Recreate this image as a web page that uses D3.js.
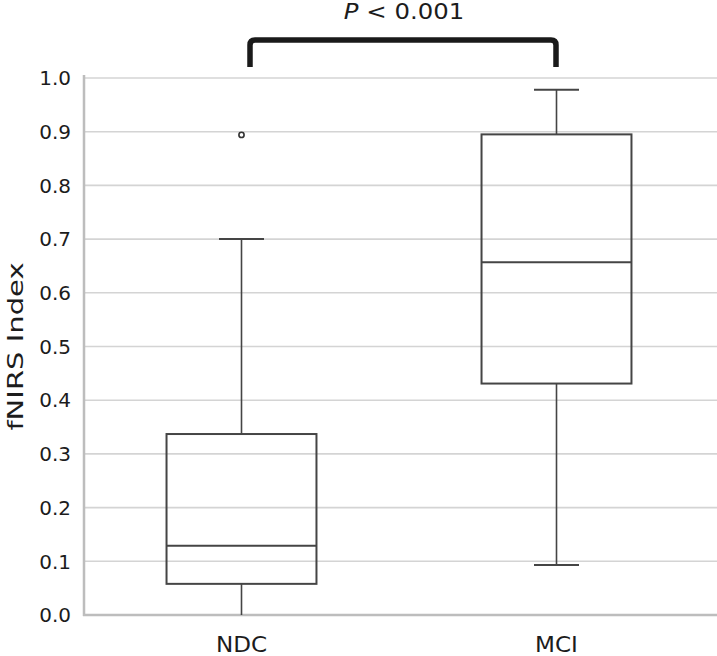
<!DOCTYPE html>
<html>
<head>
<meta charset="utf-8">
<script src="https://cdn.jsdelivr.net/npm/d3@7"></script>
<style>
    body { margin: 0; background: #fff; }
    text { font-family: "DejaVu Sans", Verdana, sans-serif; fill: #1c1c1c; }
</style>
</head>
<body>
<script>
// data
const groups = ["NDC", "MCI"];
const whiskerLow = [0.0, 0.093];
const q1 = [0.058, 0.431];
const median = [0.129, 0.657];
const q3 = [0.337, 0.895];
const whiskerHigh = [0.70, 0.978];
const outliers = [[0.894], []];
const yTicks = [0, 0.1, 0.2, 0.3, 0.4, 0.5, 0.6, 0.7, 0.8, 0.9, 1.0];
const pLabel = "< 0.001";

const width = 717, height = 656;
const margin = {top: 78, right: 3, bottom: 41, left: 84};

const svg = d3.select("body").append("svg")
    .attr("width", width)
    .attr("height", height);

const x = d3.scaleBand()
    .domain(groups)
    .range([margin.left, width - margin.right]);

const y = d3.scaleLinear()
    .domain([0, 1])
    .range([height - margin.bottom, margin.top]);

// grid
svg.append("g")
    .selectAll("line")
    .data(yTicks.slice(1))
    .enter().append("line")
    .attr("x1", margin.left)
    .attr("x2", width)
    .attr("y1", d => y(d))
    .attr("y2", d => y(d))
    .style("stroke", "#d4d4d4")
    .style("stroke-width", 1.6);

// y tick labels
svg.append("g")
    .selectAll("text")
    .data(yTicks)
    .enter().append("text")
    .attr("x", 71)
    .attr("y", d => y(d))
    .attr("dy", "0.36em")
    .attr("text-anchor", "end")
    .style("font-size", "20px")
    .text(d => d3.format(".1f")(d));

// axes lines
svg.append("line")
    .attr("x1", margin.left).attr("x2", margin.left)
    .attr("y1", y(1) - 3).attr("y2", y(0) + 1)
    .style("stroke", "#bdbdbd").style("stroke-width", 2.5);
svg.append("line")
    .attr("x1", margin.left - 1).attr("x2", width)
    .attr("y1", y(0)).attr("y2", y(0))
    .style("stroke", "#bdbdbd").style("stroke-width", 2.5);

// category labels (the figure's font runs wide, so scale x a bit)
svg.append("g")
    .selectAll("text")
    .data(groups)
    .enter().append("text")
    .attr("transform", d => "translate(" + (x(d) + x.bandwidth() / 2) + ",652) scale(1.1,1)")
    .attr("text-anchor", "middle")
    .style("font-size", "21px")
    .text(d => d);

// y label
svg.append("text")
    .attr("transform", "translate(23," + ((y(0) + y(1)) / 2) + ") rotate(-90) scale(1.32,1)")
    .attr("text-anchor", "middle")
    .style("font-size", "22px")
    .text("fNIRS Index");

// boxes
const boxW = x.bandwidth() * 0.476;
const capW = 45;
const stroke = "#454545";

const box = svg.append("g")
    .selectAll("g")
    .data(groups)
    .enter().append("g")
    .attr("transform", d => "translate(" + (x(d) + x.bandwidth() / 2) + ",0)");

box.append("line")
    .attr("x1", 0).attr("x2", 0)
    .attr("y1", (d, i) => y(whiskerHigh[i]))
    .attr("y2", (d, i) => y(q3[i]))
    .style("stroke", stroke).style("stroke-width", 1.6);
box.append("line")
    .attr("x1", 0).attr("x2", 0)
    .attr("y1", (d, i) => y(q1[i]))
    .attr("y2", (d, i) => y(whiskerLow[i]))
    .style("stroke", stroke).style("stroke-width", 1.6);

// caps
box.append("line")
    .attr("x1", -capW / 2).attr("x2", capW / 2)
    .attr("y1", (d, i) => y(whiskerHigh[i]))
    .attr("y2", (d, i) => y(whiskerHigh[i]))
    .style("stroke", stroke).style("stroke-width", 2);
box.filter((d, i) => whiskerLow[i] > 0)
    .append("line")
    .attr("x1", -capW / 2).attr("x2", capW / 2)
    .attr("y1", d => y(whiskerLow[groups.indexOf(d)]))
    .attr("y2", d => y(whiskerLow[groups.indexOf(d)]))
    .style("stroke", stroke).style("stroke-width", 2);

box.append("rect")
    .attr("x", -boxW / 2)
    .attr("width", boxW)
    .attr("y", (d, i) => y(q3[i]))
    .attr("height", (d, i) => y(q1[i]) - y(q3[i]))
    .style("fill", "none")
    .style("stroke", stroke).style("stroke-width", 2);

box.append("line")
    .attr("x1", -boxW / 2).attr("x2", boxW / 2)
    .attr("y1", (d, i) => y(median[i]))
    .attr("y2", (d, i) => y(median[i]))
    .style("stroke", stroke).style("stroke-width", 2);

box.selectAll("circle")
    .data((d, i) => outliers[i])
    .enter().append("circle")
    .attr("cx", 0)
    .attr("cy", d => y(d))
    .attr("r", 2.6)
    .style("fill", "#fff")
    .style("stroke", "#333").style("stroke-width", 1.6);

// significance bracket
const bx1 = x("NDC") + x.bandwidth() / 2 + 8.5,
    bx2 = x("MCI") + x.bandwidth() / 2 - 0.5,
    by = 40, bb = 67, r = 5;
svg.append("path")
    .attr("d", "M" + bx1 + "," + bb + "V" + (by + r) + "Q" + bx1 + "," + by + " " + (bx1 + r) + "," + by +
        "H" + (bx2 - r) + "Q" + bx2 + "," + by + " " + bx2 + "," + (by + r) + "V" + bb)
    .style("fill", "none")
    .style("stroke", "#1a1a1a")
    .style("stroke-width", 5.5);

const pt = svg.append("text")
    .attr("transform", "translate(" + ((bx1 + bx2) / 2 + 1) + ",19) scale(1.16,1)")
    .attr("text-anchor", "middle")
    .style("font-size", "21px");
pt.append("tspan").style("font-style", "italic").text("P");
pt.append("tspan").text(" " + pLabel);
</script>
</body>
</html>
